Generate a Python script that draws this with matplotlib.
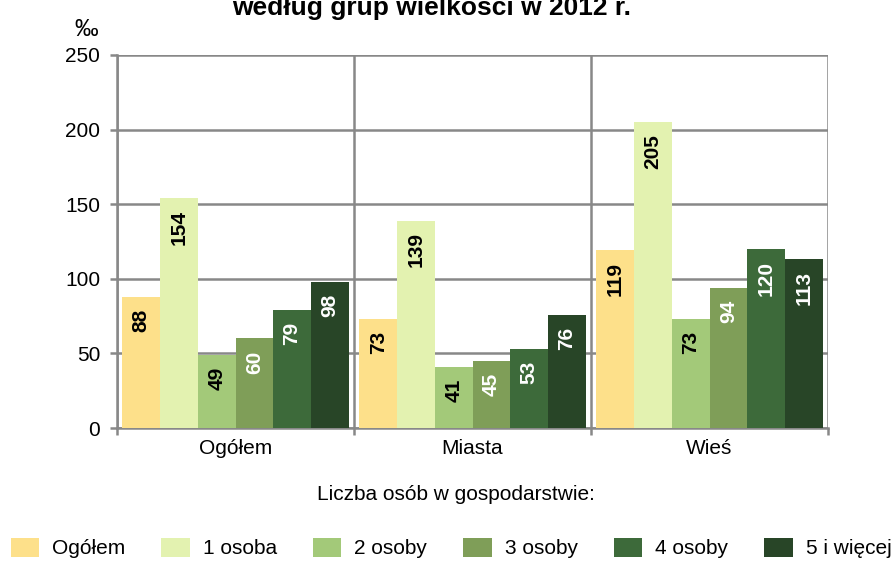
import numpy as np
import matplotlib
matplotlib.use('Agg')
import matplotlib.pyplot as plt

plt.rcParams['font.family'] = ['Liberation Sans', 'DejaVu Sans']

# data
categories = ['Ogółem', 'Miasta', 'Wieś']
series = ['Ogółem', '1 osoba', '2 osoby', '3 osoby', '4 osoby', '5 i więcej']
values = [
    [88, 73, 119],
    [154, 139, 205],
    [49, 41, 73],
    [60, 45, 94],
    [79, 53, 120],
    [98, 76, 113],
]
colors = ['#FDE08A', '#E3F2B0', '#A3C979', '#7F9E58', '#3D6A3A', '#284527']
label_colors = ['black', 'black', 'black', 'white', 'white', 'white']

grid_c = '#888888'
fs = 15

fig = plt.figure(figsize=(8.93, 5.61), dpi=100)
ax = fig.add_axes([117 / 893, 1 - 428 / 561, 711 / 893, 373 / 561])

x = np.arange(len(categories))
bw = 0.159
n = len(series)
for i, (name, vals) in enumerate(zip(series, values)):
    pos = x + (i - (n - 1) / 2) * bw
    bars = ax.bar(pos, vals, width=bw, color=colors[i], label=name, zorder=3)
    for b, v in zip(bars, vals):
        ax.annotate(str(v), (b.get_x() + b.get_width() / 2, v),
                    xytext=(0, -8.5), textcoords='offset points',
                    rotation=90, ha='center', va='top',
                    fontsize=fs, fontweight='bold', color=label_colors[i], zorder=4)

ax.set_xlim(-0.5, len(categories) - 0.5)
ax.set_ylim(0, 250)
ax.set_yticks(range(0, 251, 50))
ax.set_xticks(x)
ax.set_xticklabels(categories, fontsize=fs)
ax.set_xticks(np.arange(-0.5, len(categories), 1), minor=True)

ax.yaxis.grid(True, color=grid_c, linewidth=1.8, zorder=0)
ax.xaxis.grid(True, which='minor', color=grid_c, linewidth=1.8, zorder=0)
ax.set_axisbelow(True)

for s in ax.spines.values():
    s.set_color(grid_c)
    s.set_linewidth(1.8)
ax.spines['top'].set_visible(False)
ax.spines['right'].set_visible(False)

ax.tick_params(axis='y', labelsize=fs, color=grid_c, width=1.8, length=5, pad=7)
ax.tick_params(axis='x', which='major', length=0, pad=8)
ax.tick_params(axis='x', which='minor', color=grid_c, width=1.8, length=5)

# title is partly above the top edge, as in the source image
fig.text(432 / 893, 1 - 15 / 561, 'według grup wielkości w 2012 r.',
         ha='center', va='baseline', fontsize=19, fontweight='bold')
fig.text(86 / 893, 1 - 30 / 561, '‰', ha='center', va='center', fontsize=17)
fig.text(456 / 893, 1 - 495 / 561, 'Liczba osób w gospodarstwie:',
         ha='center', va='center', fontsize=fs)

fig.legend(loc='center', bbox_to_anchor=(451 / 893, 1 - 548 / 561), ncol=6,
           frameon=False, fontsize=fs, handlelength=1.35, handleheight=1.05,
           handletextpad=0.62, columnspacing=1.75, borderpad=0, borderaxespad=0)

fig.savefig('out.png', dpi=100)
